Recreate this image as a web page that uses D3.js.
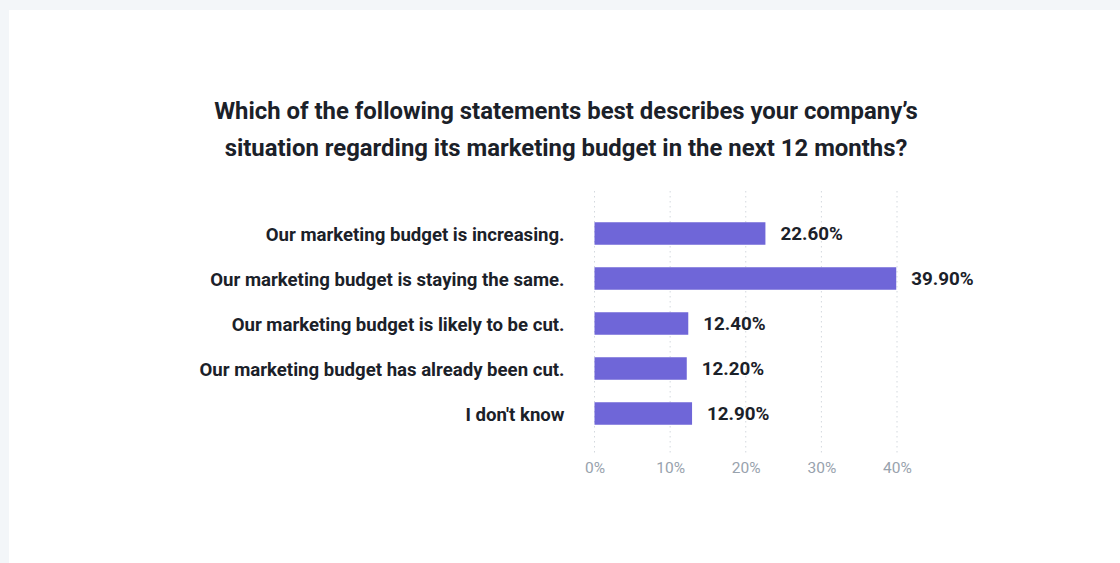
<!DOCTYPE html>
<html>
<head>
<meta charset="utf-8">
<script src="https://cdn.jsdelivr.net/npm/d3@7"></script>
<style>
  html, body { margin: 0; padding: 0; background: #f3f6f9; }
  svg { display: block; }
</style>
</head>
<body>
<svg id="chart" width="1120" height="563"></svg>
<script>
// Survey answers and their shares (%)
const categories = [
  "Our marketing budget is increasing.",
  "Our marketing budget is staying the same.",
  "Our marketing budget is likely to be cut.",
  "Our marketing budget has already been cut.",
  "I don't know"
];
const values = [22.6, 39.9, 12.4, 12.2, 12.9];
const tickValues = [0, 10, 20, 30, 40];
const titleLines = [
  "Which of the following statements best describes your company\u2019s",
  "situation regarding its marketing budget in the next 12 months?"
];

const svg = d3.select("#chart");
const font = "Roboto, 'Noto Sans', sans-serif";

// white card
svg.append("rect")
  .attr("x", 9).attr("y", 10)
  .attr("width", 1111).attr("height", 553)
  .attr("fill", "#ffffff");

// title
svg.append("g").selectAll("text")
  .data(titleLines)
  .join("text")
  .attr("x", 566)
  .attr("y", (d, i) => 119 + i * 37)
  .attr("text-anchor", "middle")
  .attr("font-family", font)
  .attr("font-weight", 700)
  .attr("font-size", 23.9)
  .attr("fill", "#1b2129")
  .text(d => d);

const x = d3.scaleLinear().domain([0, 40]).range([594.5, 897]);
const y = d3.scaleBand().domain(categories).range([211, 436])
  .paddingInner(0.5).paddingOuter(0.25);

// dotted vertical grid
svg.append("g").selectAll("line")
  .data(tickValues)
  .join("line")
  .attr("x1", d => x(d)).attr("x2", d => x(d))
  .attr("y1", 191).attr("y2", 455)
  .attr("stroke", "#d3d8de")
  .attr("stroke-width", 1)
  .attr("stroke-dasharray", "1.5,3.5");

// x axis tick labels
const xAxis = d3.axisBottom(x)
  .tickValues(tickValues)
  .tickFormat(d => d + "%")
  .tickSize(0)
  .tickPadding(0);
const gx = svg.append("g").attr("transform", "translate(0,462)").call(xAxis);
gx.select(".domain").remove();
gx.selectAll("text")
  .attr("font-family", font)
  .attr("font-size", 15.5)
  .attr("fill", "#98a2ad")
  .attr("dy", "0.71em");

// category labels
const yAxis = d3.axisLeft(y).tickSize(0).tickPadding(30);
const gy = svg.append("g").attr("transform", `translate(${x(0)},0)`).call(yAxis);
gy.select(".domain").remove();
gy.selectAll("text")
  .attr("font-family", font)
  .attr("font-weight", 700)
  .attr("font-size", 18.6)
  .attr("fill", "#1b2129")
  .attr("dy", "0.4em");

const rows = categories.map((c, i) => ({ c, v: values[i] }));

// bars
svg.append("g").selectAll("rect")
  .data(rows)
  .join("rect")
  .attr("x", x(0))
  .attr("y", d => y(d.c))
  .attr("width", d => x(d.v) - x(0))
  .attr("height", y.bandwidth())
  .attr("fill", "#6f66d8");

// value labels
svg.append("g").selectAll("text")
  .data(rows)
  .join("text")
  .attr("x", d => x(d.v) + 15)
  .attr("y", d => y(d.c) + y.bandwidth() / 2)
  .attr("dy", "0.35em")
  .attr("font-family", font)
  .attr("font-weight", 700)
  .attr("font-size", 18.8)
  .attr("fill", "#1b2129")
  .text(d => d.v.toFixed(2) + "%");
</script>
</body>
</html>
